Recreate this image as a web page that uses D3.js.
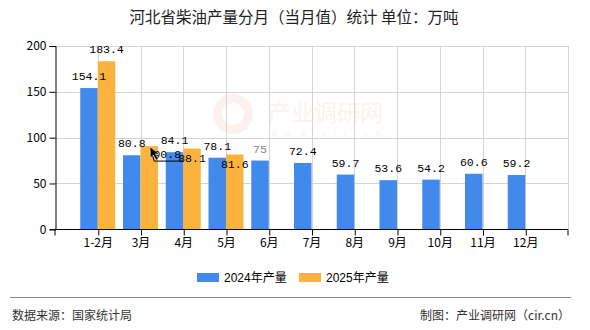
<!DOCTYPE html>
<html><head><meta charset="utf-8">
<script src="https://cdn.jsdelivr.net/npm/d3@7"></script>
<style>
html,body{margin:0;padding:0;background:#fff;}
svg{display:block;}
</style></head>
<body>
<svg id="chart" width="590" height="330"></svg>
<script>
const categories = ["1-2月","3月","4月","5月","6月","7月","8月","9月","10月","11月","12月"];
const values2024 = [154.1, 80.8, 84.1, 78.1, 75, 72.4, 59.7, 53.6, 54.2, 60.6, 59.2];
const values2025 = [183.4, 90.8, 88.1, 81.6];
const seriesNames = ["2024年产量", "2025年产量"];
const yTicks = [0, 50, 100, 150, 200];

// layout-only: vertical label shifts for overlapping 2025 labels (px)
const labelShift2025 = [0, 20, 21, 21];
const labelDx2025 = [0, 18, 0, 0];

const colors = ["#418AEC", "#FBB23E"];
const svg = d3.select("#chart");
const M = {l:55, r:568, t:46, b:229.3};

const x = d3.scalePoint().domain(categories).range([M.l, M.r]).padding(1);
const y = d3.scaleLinear().domain([0, 200]).range([M.b, M.t]);
const bw = 17.5;

// title
svg.append("text").attr("x", 294).attr("y", 23).attr("text-anchor","middle")
  .style("font-family","'Noto Sans CJK SC','Noto Sans',sans-serif").style("font-size","15.5px")
  .style("fill","#222").text("河北省柴油产量分月（当月值）统计  单位：万吨");

// watermark
const wm = svg.append("g").attr("opacity",0.08);
wm.append("circle").attr("cx",233).attr("cy",114).attr("r",20).attr("fill","#e8573a");
wm.append("circle").attr("cx",233).attr("cy",114).attr("r",11).attr("fill","#fff");
wm.append("text").attr("x",268).attr("y",121).style("font-family","'Noto Sans CJK SC',sans-serif")
  .style("font-size","23px").style("fill","#e8573a").text("产业调研网");
wm.append("text").attr("x",270).attr("y",136).style("font-family","'DejaVu Sans',sans-serif")
  .style("font-size","9px").style("letter-spacing","7px").style("fill","#e8573a").text("www.cir.cn");

// grid
const grid = svg.append("g");
grid.selectAll(".hg").data(yTicks.filter(d=>d>0)).enter().append("line")
  .attr("x1",M.l).attr("x2",M.r).attr("y1",d=>Math.round(y(d))+0.5).attr("y2",d=>Math.round(y(d))+0.5)
  .attr("stroke","#d4d4d4").attr("stroke-width",1);
grid.selectAll(".vg").data(categories).enter().append("line")
  .attr("x1",d=>Math.round(x(d))+0.5).attr("x2",d=>Math.round(x(d))+0.5)
  .attr("y1",M.t).attr("y2",M.b).attr("stroke","#d4d4d4");
grid.append("line").attr("x1",M.r+0.5).attr("x2",M.r+0.5).attr("y1",M.t).attr("y2",M.b).attr("stroke","#d4d4d4");

// bars
svg.append("g").selectAll("rect").data(values2024).enter().append("rect")
  .attr("x",(d,i)=>x(categories[i])-bw).attr("width",bw)
  .attr("y",d=>y(d)).attr("height",d=>y(0)-y(d)).attr("fill",colors[0]);
svg.append("g").selectAll("rect").data(values2025).enter().append("rect")
  .attr("x",(d,i)=>x(categories[i])).attr("width",bw)
  .attr("y",d=>y(d)).attr("height",d=>y(0)-y(d)).attr("fill",colors[1]);

// axes
const yAxis = d3.axisLeft(y).tickValues(yTicks).tickSize(6).tickPadding(3);
const gy = svg.append("g").attr("transform",`translate(${M.l+0.5},0)`).call(yAxis);
const xAxis = d3.axisBottom(x).tickSize(6).tickPadding(3);
const gx = svg.append("g").attr("transform",`translate(0,${Math.round(M.b)+0.5})`).call(xAxis);
gx.select(".domain").attr("d",`M${M.l},6V0H${M.r}V6`);
[gx, gy].forEach(g=>{
  g.selectAll("path,line").attr("stroke","#000");
  g.selectAll("text").style("font-family","'Noto Sans CJK SC','Liberation Sans',sans-serif")
    .style("font-size","12px").attr("fill","#000");
});
gx.selectAll(".tick line").attr("transform","translate(0.5,0)");

// labels
const lf = "'Liberation Mono','DejaVu Sans Mono',monospace";
svg.append("g").selectAll("text").data(values2024).enter().append("text")
  .attr("x",(d,i)=>x(categories[i])-bw/2).attr("y",d=>y(d)-8)
  .attr("text-anchor","middle").style("font-family",lf).style("font-size","11.5px")
  .attr("fill",(d,i)=>i===4?"#888":"#000").text(d=>d);
svg.append("g").selectAll("text").data(values2025).enter().append("text")
  .attr("x",(d,i)=>x(categories[i])+bw/2+labelDx2025[i]).attr("y",(d,i)=>y(d)-8+labelShift2025[i])
  .attr("text-anchor","middle").style("font-family",lf).style("font-size","11.5px")
  .attr("fill","#000").text(d=>d);

// leader line for displaced label
const lx = x(categories[1])+bw/2, ly = y(values2025[1]);
svg.append("polyline").attr("points",`${lx+1},${ly+2} ${lx+5},${ly+15} ${lx+34},${ly+15}`)
  .attr("fill","none").attr("stroke","#000").attr("stroke-width",1);
svg.append("path").attr("d",`M${lx+1},${ly+1} l0,11 l3,-3 l3,5 l2,-1 l-3,-5 l4,0 Z`)
  .attr("fill","#000").attr("stroke","#fff").attr("stroke-width",0.5);

// legend
const lg = svg.append("g");
const legX = [197, 299];
seriesNames.forEach((n,i)=>{
  lg.append("rect").attr("x",legX[i]).attr("y",273).attr("width",22).attr("height",9).attr("fill",colors[i]);
  lg.append("text").attr("x",legX[i]+27).attr("y",282)
    .style("font-family","'Liberation Sans','Noto Sans CJK SC',sans-serif").style("font-size","12px")
    .attr("fill","#000").text(n);
});

// footer
svg.append("line").attr("x1",10).attr("x2",571).attr("y1",297.5).attr("y2",297.5).attr("stroke","#888");
svg.append("text").attr("x",12).attr("y",320).style("font-family","'Noto Sans CJK SC',sans-serif")
  .style("font-size","12px").attr("fill","#333").text("数据来源：国家统计局");
svg.append("text").attr("x",570).attr("y",320).attr("text-anchor","end").style("font-family","'Noto Sans CJK SC',sans-serif")
  .style("font-size","12px").attr("fill","#333").text("制图：产业调研网（cir.cn）");
</script>
</body></html>
